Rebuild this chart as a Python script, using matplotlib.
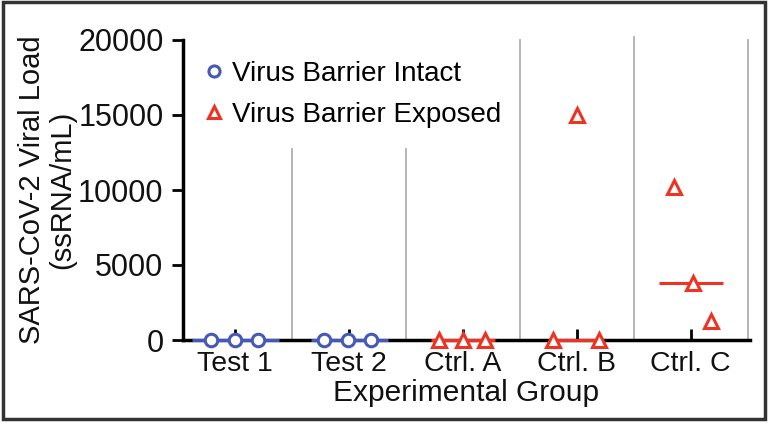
import matplotlib
matplotlib.use("Agg")
import matplotlib.pyplot as plt
from matplotlib.patches import Rectangle

plt.rcParams['font.family'] = ['Liberation Sans', 'DejaVu Sans']

categories = ["Test 1", "Test 2", "Ctrl. A", "Ctrl. B", "Ctrl. C"]
group_type = ["intact", "intact", "exposed", "exposed", "exposed"]
values = [
    [0, 0, 0],
    [0, 0, 0],
    [0, 0, 0],
    [0, 15000, 0],
    [10200, 3800, 1270],
]
jitter = [
    [-0.21, 0.0, 0.20],
    [-0.22, -0.01, 0.19],
    [-0.21, 0.0, 0.19],
    [-0.21, 0.0, 0.19],
    [-0.15, 0.02, 0.18],
]
medians = [0, 0, 0, 0, 3800]
median_half = [0.38, 0.34, 0.28, 0.21, 0.28]
separator_tops = [12700, 12700, 20000, 20200, 20000]
yticks = [0, 5000, 10000, 15000, 20000]

blue = "#4459b8"
red = "#ee3322"
colors = {"intact": blue, "exposed": red}
markers = {"intact": "o", "exposed": "^"}
labels = {"intact": "Virus Barrier Intact", "exposed": "Virus Barrier Exposed"}

fig = plt.figure(figsize=(7.69, 4.23), dpi=100)
ax = fig.add_axes([183/769, 83/423, 567/769, 300/423])

xs = list(range(len(categories)))

# separators
for i, top in enumerate(separator_tops):
    ax.plot([i + 0.5, i + 0.5], [0, top], color="#b0b0b0", lw=1.3, zorder=1, clip_on=False)

done = set()
for i, cat in enumerate(categories):
    g = group_type[i]
    c = colors[g]
    ax.plot([i - median_half[i], i + median_half[i]], [medians[i], medians[i]],
            color=c, lw=2.2, zorder=3, clip_on=False, solid_capstyle='butt')
    px = [i + j for j in jitter[i]]
    lab = labels[g] if g not in done else None
    done.add(g)
    ms = 9 if g == "intact" else 10
    ax.plot(px, values[i], linestyle="none", marker=markers[g], ms=ms,
            mfc="white", mec=c, mew=2.2, zorder=4, clip_on=False, label=lab)

ax.set_xlim(-0.46, 4.52)
ax.set_ylim(0, 20000)
ax.set_xticks(xs)
ax.set_xticklabels(categories)
ax.set_yticks(yticks)
ax.set_yticklabels([str(v) for v in yticks])

for s in ["top", "right"]:
    ax.spines[s].set_visible(False)
ax.spines["left"].set_linewidth(2.5)
ax.spines["bottom"].set_linewidth(2.5)
ax.spines["left"].set_zorder(2)
ax.spines["bottom"].set_zorder(2)

ax.tick_params(axis="x", direction="in", length=8, width=2, pad=8, labelsize=20.5, colors="black")
ax.tick_params(axis="y", direction="out", length=8, width=2, pad=6, labelsize=22)
for t in ax.get_xticklabels() + ax.get_yticklabels():
    t.set_color("#111111")

ax.set_xlabel("Experimental Group", fontsize=21.5, labelpad=1, color="#111111")
ax.set_ylabel("SARS-CoV-2 Viral Load\n(ssRNA/mL)", fontsize=21, labelpad=1,
              color="#111111", linespacing=1.1)

leg = ax.legend(loc="upper left", bbox_to_anchor=(0.0, 0.995), frameon=False,
                fontsize=20, handlelength=0.8, handletextpad=0.25,
                labelspacing=0.55, borderaxespad=0.3)
for h in leg.legend_handles:
    h.set_markersize(8)

fig.patches.append(Rectangle((3/769, 4/423), 762/769, 417/423, transform=fig.transFigure,
                             fill=False, edgecolor="#333333", lw=2.5))

fig.savefig("out.png", dpi=100)
